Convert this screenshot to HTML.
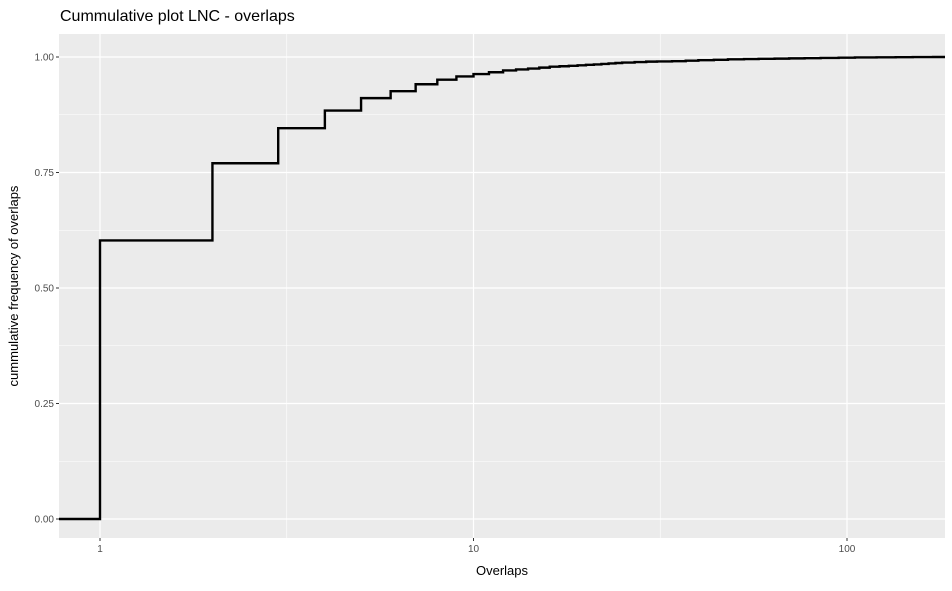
<!DOCTYPE html>
<html><head><meta charset="utf-8"><style>body{margin:0;background:#fff}text{font-family:"Liberation Sans",sans-serif}</style></head>
<body>
<svg id="c" width="952" height="586" xmlns="http://www.w3.org/2000/svg"></svg>
<script>
const xs=[1,2,3,4,5,6,7,8,9,10,11,12,13,14,15,16,17,18,19,20,21,22,23,24,25,27,29,31,34,37,40,44,48,53,58,64,70,77,85,95,105,120,135,150,170];
const ys=[0.603,0.770,0.846,0.884,0.911,0.926,0.941,0.951,0.958,0.963,0.967,0.971,0.973,0.975,0.977,0.979,0.980,0.981,0.982,0.983,0.984,0.985,0.986,0.987,0.988,0.989,0.990,0.9905,0.991,0.992,0.993,0.994,0.995,0.9955,0.996,0.9965,0.997,0.9975,0.998,0.9985,0.999,0.9993,0.9996,0.9998,1.0];
const yTicks=[0,0.25,0.5,0.75,1];
const yLabels=["0.00","0.25","0.50","0.75","1.00"];
const xTicks=[1,10,100];
const xLabels=["1","10","100"];
const L=59,R=945,T=34,B=538;
const X=v=>100+Math.log10(v)*373.5;
const Y=v=>519-v*462;
const s=document.getElementById('c');const NS="http://www.w3.org/2000/svg";
function el(t,a,p){const e=document.createElementNS(NS,t);for(const k in a)e.setAttribute(k,a[k]);(p||s).appendChild(e);return e;}
const bg=el('rect',{x:L,y:T,width:R-L,height:B-T,fill:'#ebebeb'});


for(let i=0;i<yTicks.length-1;i++){const m=(yTicks[i]+yTicks[i+1])/2;const g=el('line',{x1:L,x2:R,y1:Y(m),y2:Y(m),stroke:'#fff','stroke-width':0.6});}
[Math.sqrt(10),Math.sqrt(1000)].forEach(m=>{const g=el('line',{x1:X(m),x2:X(m),y1:T,y2:B,stroke:'#fff','stroke-width':0.6});});
yTicks.forEach((v,i)=>{const g=el('line',{x1:L,x2:R,y1:Y(v),y2:Y(v),stroke:'#fff','stroke-width':1.2});
const t=el('line',{x1:L-3,x2:L,y1:Y(v),y2:Y(v),stroke:'#333'});
const lb=el('text',{x:L-5,y:Y(v)+3.5,'text-anchor':'end','font-size':10,fill:'#4d4d4d'});lb.textContent=yLabels[i];});
xTicks.forEach((v,i)=>{const g=el('line',{x1:X(v),x2:X(v),y1:T,y2:B,stroke:'#fff','stroke-width':1.2});
const t=el('line',{x1:X(v),x2:X(v),y1:B,y2:B+3,stroke:'#333'});
const lb=el('text',{x:X(v),y:B+14,'text-anchor':'middle','font-size':10,fill:'#4d4d4d'});lb.textContent=xLabels[i];});
let d=`M${L},${Y(0)} H${X(xs[0])}`;
for(let i=0;i<xs.length;i++){d+=` V${Y(ys[i])}`;d+=` H${i+1<xs.length?X(xs[i+1]):R}`;}
const p=el('path',{d:d,fill:'none',stroke:'#000','stroke-width':2.4});


const ti=el('text',{x:60,y:21,'font-size':16,fill:'#000'});ti.textContent='Cummulative plot LNC - overlaps';
const xt=el('text',{x:(L+R)/2,y:575,'text-anchor':'middle','font-size':13,fill:'#000'});xt.textContent='Overlaps';
const yt=el('text',{x:0,y:0,'text-anchor':'middle','font-size':13,fill:'#000',transform:`translate(18,${(T+B)/2}) rotate(-90)`});yt.textContent='cummulative frequency of overlaps';
</script>
</body></html>
